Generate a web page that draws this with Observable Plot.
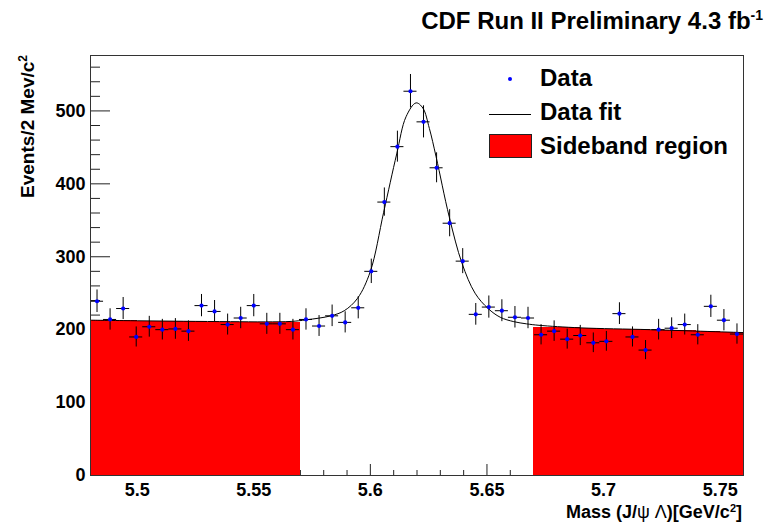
<!DOCTYPE html>
<html><head><meta charset="utf-8">
<script src="https://cdn.jsdelivr.net/npm/d3@7"></script>
<script src="https://cdn.jsdelivr.net/npm/@observablehq/plot@0.6"></script>
<style>
html,body{margin:0;padding:0;background:#fff;}
#wrap{position:relative;width:775px;height:523px;overflow:hidden;}
#wrap svg text{font-family:"Liberation Sans",Arial,Helvetica,sans-serif;font-weight:bold;fill:#000;}
#overlay{position:absolute;left:0;top:0;pointer-events:none;}
</style></head><body>
<div id="wrap"></div>
<script>
// Bin centres (GeV/c^2) and event counts
const massCenters = [5.4828,5.4884,5.4940,5.4996,5.5052,5.5108,5.5164,5.5220,5.5276,5.5332,
  5.5388,5.5444,5.5500,5.5556,5.5612,5.5668,5.5724,5.5780,5.5836,5.5892,
  5.5948,5.6004,5.6060,5.6116,5.6172,5.6228,5.6284,5.6340,5.6396,5.6452,
  5.6508,5.6564,5.6620,5.6676,5.6732,5.6788,5.6844,5.6900,5.6956,5.7012,
  5.7068,5.7124,5.7180,5.7236,5.7292,5.7348,5.7404,5.7460,5.7516,5.7572];
const events = [239,214,229,190,204,200,201,198,233,225,
  207,216,233,208,208,200,214,205,219,210,
  230,280,375,451,527,485,422,346,294,221,
  231,226,217,216,193,198,187,192,182,184,
  222,190,172,200,202,207,193,232,213,194];
const binHalfWidth = 0.0028;

// Sideband histogram (red)
const sidebandLow  = [5.48,5.49,5.50,5.51,5.52,5.53,5.54,5.55,5.56, 5.67,5.68,5.69,5.70,5.71,5.72,5.73,5.74,5.75];
const sidebandHigh = [5.49,5.50,5.51,5.52,5.53,5.54,5.55,5.56,5.57, 5.68,5.69,5.70,5.71,5.72,5.73,5.74,5.75,5.76];
const sidebandEvents = [212.7,212.2,211.5,211.2,210.6,210.4,210.2,209.4,209.2, 203.6,203,202,200.8,200.2,199.4,198.8,197.8,196.8];

// Fit curve
const fitMass = [5.48,5.50,5.52,5.54,5.555,5.566,5.5726,5.5831,5.5888,5.5945,5.6,5.6057,5.6113,5.6153,5.6196,5.6225,5.6253,5.6282,5.6338,5.6393,5.6449,5.6505,5.6557,5.6615,5.6669,5.6723,5.69,5.72,5.76];
const fitEvents = [213,212.2,211.5,211,210.7,211.3,213.5,219,226,243,280,361,441,492,511,504,476,437,355,291,250,229,217,211,208,206,202.5,200,196];

// Axes
const xDomain = [5.48, 5.76];
const yDomain = [0, 576];
const xTickValues = [5.5,5.55,5.6,5.65,5.7,5.75];
const xTickLabels = ["5.5","5.55","5.6","5.65","5.7","5.75"];
const xMinorTicks = [5.49,5.51,5.52,5.53,5.54,5.56,5.57,5.58,5.59,5.61,5.62,5.63,5.64,5.66,5.67,5.68,5.69,5.71,5.72,5.73,5.74];
const yTickValues = [0,100,200,300,400,500];
const yTickLabels = ["0","100","200","300","400","500"];
const yMinorTicks = [20,40,60,80,120,140,160,180,220,240,260,280,320,340,360,380,420,440,460,480,520,540,560];

const points = massCenters.map((m, i) => ({m, v: events[i]}));
const sideband = sidebandLow.map((lo, i) => ({lo, hi: sidebandHigh[i], v: sidebandEvents[i]}));
const fit = fitMass.map((m, i) => ({m, v: fitEvents[i]}));

const chart = Plot.plot({
  width: 775, height: 523,
  marginLeft: 90, marginRight: 32, marginTop: 55, marginBottom: 48,
  x: {domain: xDomain, axis: null},
  y: {domain: yDomain, axis: null},
  style: {background: "white", overflow: "visible"},
  marks: [
    // inward ticks
    Plot.ruleY(yTickValues, {y: d => d, x1: xDomain[0], x2: xDomain[0], insetRight: -20, stroke: "#222"}),
    Plot.ruleY(yMinorTicks, {y: d => d, x1: xDomain[0], x2: xDomain[0], insetRight: -10, stroke: "#222"}),
    Plot.ruleX(xTickValues, {x: d => d, y1: 0, y2: 0, insetTop: -11, stroke: "#222"}),
    Plot.ruleX(xMinorTicks, {x: d => d, y1: 0, y2: 0, insetTop: -5, stroke: "#222"}),
    // sideband
    Plot.rectY(sideband, {x1: "lo", x2: "hi", y: "v", fill: "#ff0000", shapeRendering: "crispEdges"}),
    // fit
    Plot.line(fit, {x: "m", y: "v", curve: "catmull-rom", stroke: "#000", strokeWidth: 1}),
    // error bars
    Plot.ruleY(points, {y: "v", x1: d => d.m - binHalfWidth, x2: d => d.m + binHalfWidth, stroke: "#000", strokeWidth: 1}),
    Plot.ruleX(points, {x: "m", y1: d => d.v - Math.sqrt(d.v), y2: d => d.v + Math.sqrt(d.v), stroke: "#000", strokeWidth: 1}),
    Plot.dot(points, {x: "m", y: "v", r: 2.1, fill: "#0000ff", stroke: null}),
    // tick labels
    Plot.text(yTickValues, {y: d => d, text: (d, i) => yTickLabels[i], frameAnchor: "left", textAnchor: "end", dx: -5, fontSize: 18}),
    Plot.text(xTickValues, {x: d => d, text: (d, i) => xTickLabels[i], frameAnchor: "bottom", lineAnchor: "top", dy: 8, fontSize: 18}),
    Plot.frame({stroke: "#333"})
  ]
});
const wrap = document.getElementById("wrap");
wrap.appendChild(chart);

const ns = "http://www.w3.org/2000/svg";
const overlay = document.createElementNS(ns, "svg");
overlay.setAttribute("id", "overlay");
overlay.setAttribute("width", "775");
overlay.setAttribute("height", "523");
overlay.innerHTML = `
  <text x="763" y="29" text-anchor="end" font-size="24">CDF Run II Preliminary 4.3 fb<tspan dy="-9" font-size="14">-1</tspan></text>
  <text transform="translate(34,55) rotate(-90)" text-anchor="end" font-size="19">Events/2 Mev/c<tspan dy="-7" font-size="12">2</tspan></text>
  <text x="742" y="518" text-anchor="end" font-size="18">Mass (J/<tspan font-weight="normal">ψ</tspan> <tspan font-weight="normal">Λ</tspan>)[GeV/c<tspan dy="-6" font-size="11">2</tspan><tspan dy="6">]</tspan></text>
  <circle cx="510" cy="79" r="2" fill="#0000ff"/>
  <text x="540" y="86" font-size="24">Data</text>
  <line x1="489" x2="531" y1="114.5" y2="114.5" stroke="#000" stroke-width="1"/>
  <text x="540" y="120" font-size="24">Data fit</text>
  <rect x="489.5" y="134.5" width="42" height="23" fill="#ff0000" stroke="#222" stroke-width="1"/>
  <text x="540" y="154" font-size="24">Sideband region</text>
`;
wrap.appendChild(overlay);
</script>
</body></html>
